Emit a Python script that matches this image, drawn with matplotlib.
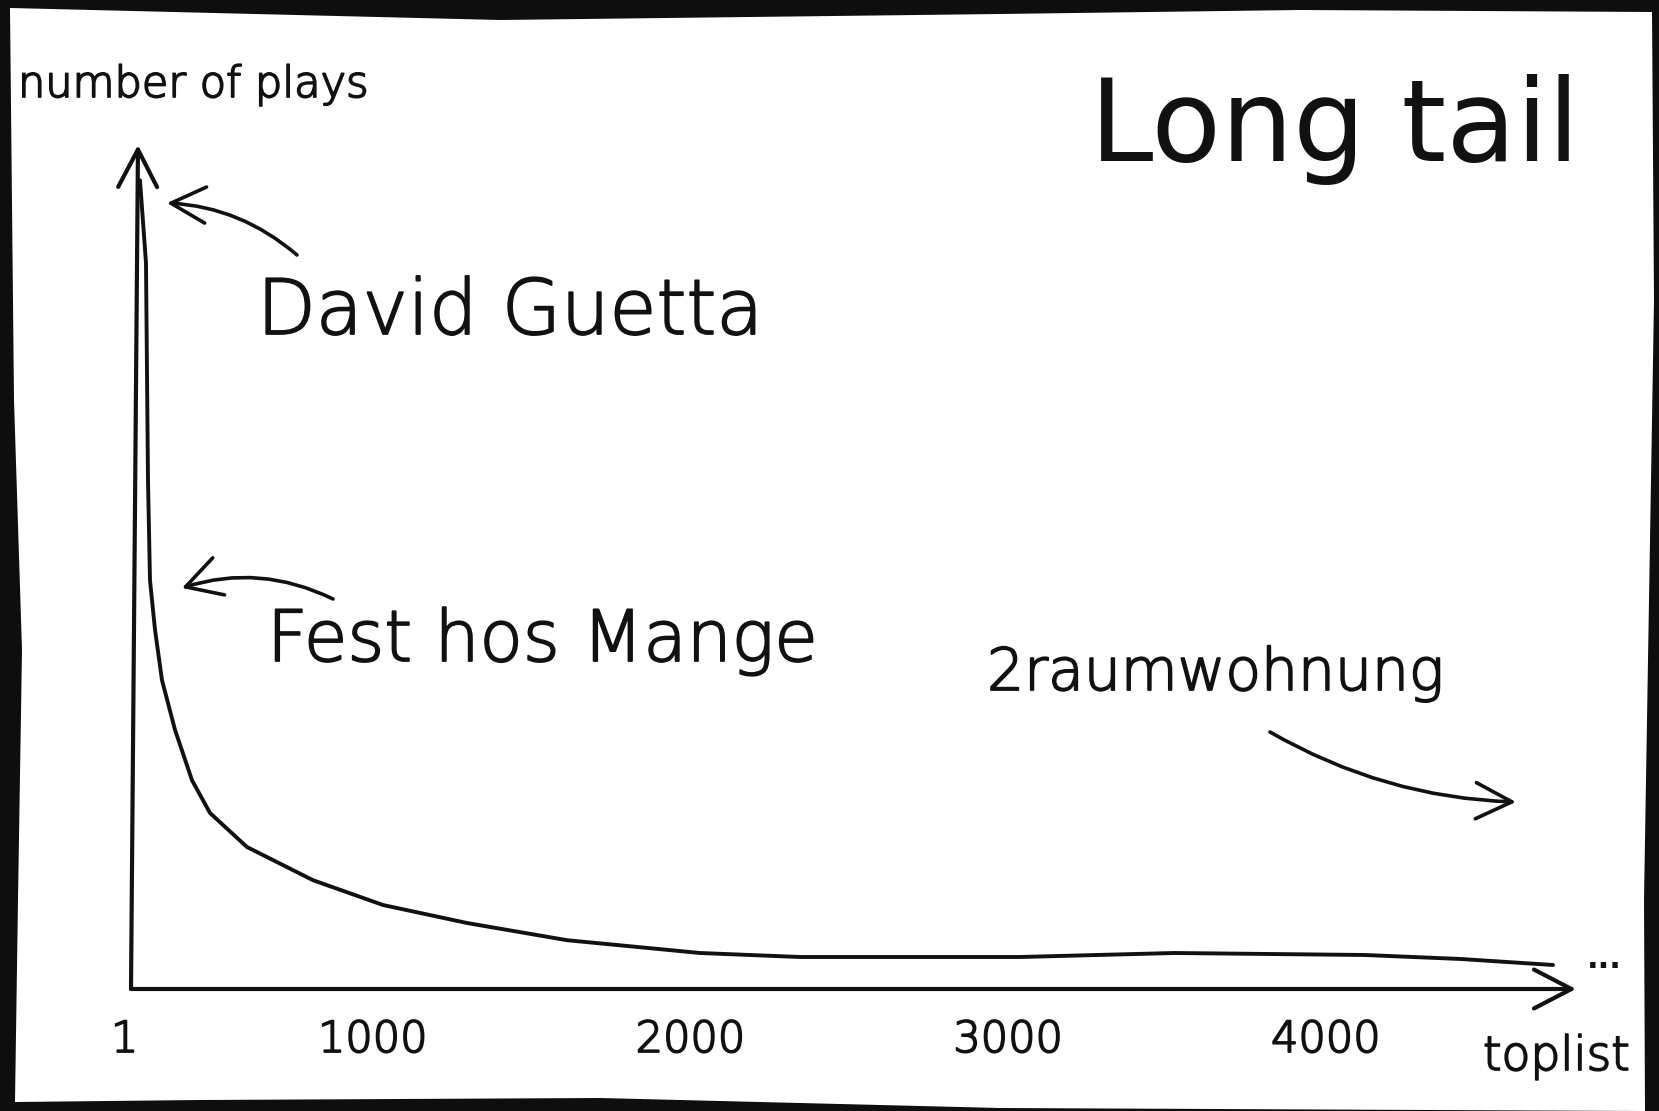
import matplotlib
matplotlib.use("Agg")
import matplotlib.pyplot as plt
import matplotlib.patheffects as pe
from matplotlib.patches import Polygon

# chart data
rank = [267.5, 286.4, 292.7, 299.0, 314.8, 336.8, 377.7, 431.2, 487.9, 604.3,
        812.1, 1032.4, 1296.8, 1611.6, 2030.2, 2345.0, 2659.7, 3037.5,
        3522.2, 4123.4, 4425.6, 4715.2]
plays = [101.1, 90.75, 63.6, 51.1, 44.9, 38.6, 32.4, 26.1, 22.0, 17.75,
         13.6, 10.5, 8.25, 6.1, 4.5, 4.0, 4.0, 4.0,
         4.5, 4.25, 3.75, 3.0]
tick_values = [1, 1000, 2000, 3000, 4000]
tick_labels = ["1", "1000", "2000", "3000", "4000"]
artists = ["David Guetta", "Fest hos Mange", "2raumwohnung"]

W, H = 1659, 1111
INK = "#111111"

# pixel -> data helpers (sketch scale)
def X(px):
    return (px - 55) / 0.3177

def Y(py):
    return (989 - py) / 8.0

plt.rcParams["font.family"] = ["DejaVu Sans"]
plt.rcParams["font.weight"] = "light"

# thin pen look for the handwriting
pen = [pe.withStroke(linewidth=1.3, foreground=INK)]

fig = plt.figure(figsize=(W / 100, H / 100), dpi=100, facecolor="#0e0e0e")

# the white sheet of paper, slightly crooked
paper = [(10, 8), (500, 20), (1000, 14), (1300, 10), (1652, 12),
         (1654, 300), (1649, 600), (1644, 900), (1645, 1111),
         (1000, 1108), (600, 1098), (200, 1100), (15, 1102),
         (18, 900), (22, 650), (14, 400)]
fig.patches.append(Polygon([(x / W, 1 - y / H) for x, y in paper],
                           closed=True, transform=fig.transFigure,
                           facecolor="white", edgecolor="none", zorder=-5))

ax = fig.add_axes([0, 0, 1, 1])
ax.set_xlim(X(0), X(W))
ax.set_ylim(Y(H), Y(0))
ax.axis("off")

# axes drawn as arrows
x0 = X(131)
head = "->,head_length=27,head_width=14"
ax.annotate("", xy=(X(138), Y(145)), xytext=(x0, 0),
            arrowprops=dict(arrowstyle=head, lw=3, color=INK,
                            shrinkA=0, shrinkB=0, mutation_scale=1))
ax.annotate("", xy=(X(1576), 0), xytext=(x0, 0),
            arrowprops=dict(arrowstyle=head, lw=3, color=INK,
                            shrinkA=0, shrinkB=0, mutation_scale=1))

# the long tail
ax.plot(rank, plays, color=INK, lw=2.8, solid_capstyle="round",
        solid_joinstyle="round")

# tick labels
for v, lab in zip(tick_values, tick_labels):
    ax.text(x0 - 20 if v == 1 else v, Y(1052), lab, fontsize=31,
            ha="center", va="baseline", color=INK, path_effects=pen)

ax.text(X(1483), Y(1070), "toplist", fontsize=34, ha="left",
        va="baseline", color=INK, path_effects=pen)
ax.text(X(1587), Y(968), "...", fontsize=22, ha="left", va="baseline",
        color=INK, fontweight="bold")
ax.text(X(18), Y(97), "number of plays", fontsize=31, ha="left",
        va="baseline", color=INK, path_effects=pen)
ax.text(X(1090), Y(161), "Long tail", fontsize=82, ha="left",
        va="baseline", color=INK, fontweight="normal")

# artist labels with hand-drawn pointers
ax.text(X(257), Y(334), artists[0], fontsize=55, ha="left",
        va="baseline", color=INK, path_effects=pen)
ax.annotate("", xy=(X(167), Y(203)), xytext=(X(297), Y(255)),
            arrowprops=dict(arrowstyle="->,head_length=25,head_width=13",
                            lw=2.6, color=INK, shrinkA=0, shrinkB=0,
                            mutation_scale=1,
                            connectionstyle="arc3,rad=0.17"))

ax.text(X(267), Y(661), artists[1], fontsize=51, ha="left",
        va="baseline", color=INK, path_effects=pen)
ax.annotate("", xy=(X(182), Y(588)), xytext=(X(333), Y(599)),
            arrowprops=dict(arrowstyle="->,head_length=25,head_width=14",
                            lw=2.6, color=INK, shrinkA=0, shrinkB=0,
                            mutation_scale=1,
                            connectionstyle="arc3,rad=0.2"))

ax.text(X(987), Y(690), artists[2], fontsize=42, ha="left",
        va="baseline", color=INK, path_effects=pen)
ax.annotate("", xy=(X(1516), Y(802)), xytext=(X(1270), Y(732)),
            arrowprops=dict(arrowstyle="->,head_length=26,head_width=13",
                            lw=2.6, color=INK, shrinkA=0, shrinkB=0,
                            mutation_scale=1,
                            connectionstyle="arc3,rad=0.125"))

fig.savefig("out.png", dpi=100, facecolor=fig.get_facecolor())
